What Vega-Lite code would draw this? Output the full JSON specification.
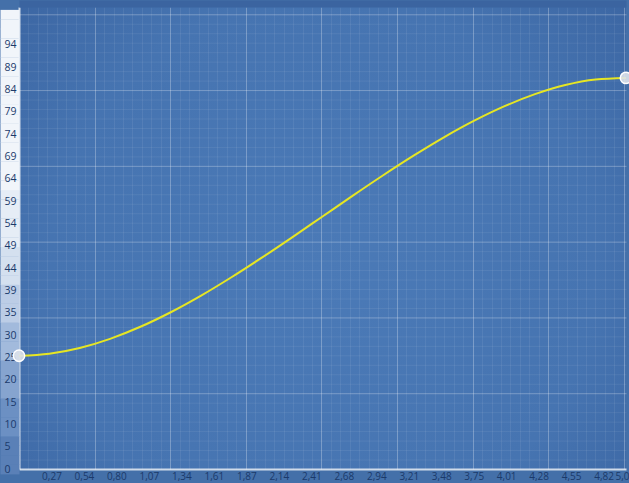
{
  "$schema": "https://vega.github.io/schema/vega-lite/v6.json",
  "width": 607,
  "height": 462,
  "autosize": "none",
  "padding": {"left": 19, "top": 7, "right": 3, "bottom": 14},
  "background": "#4470a9",
  "config": {
    "view": {
      "stroke": null,
      "fill": {"gradient": "radial", "x1": 0.5, "y1": 0.55, "r1": 0, "x2": 0.5, "y2": 0.55, "r2": 0.75,
        "stops": [{"offset": 0, "color": "#4b7ab7"}, {"offset": 0.6, "color": "#4674b1"}, {"offset": 1, "color": "#38619e"}]}
    },
    "axis": {"labelFont": "Open Sans", "labelFontSize": 10, "labelColor": "#1b3a6b", "labelOverlap": false, "labelBound": false}
  },
  "datasets": {
    "curve": [
      {"x": 0, "y": 25}, {"x": 0.25, "y": 25.45}, {"x": 0.5, "y": 26.72}, {"x": 0.75, "y": 28.74},
      {"x": 1.0, "y": 31.4}, {"x": 1.25, "y": 34.61}, {"x": 1.5, "y": 38.28}, {"x": 1.75, "y": 42.33},
      {"x": 2.0, "y": 46.65}, {"x": 2.25, "y": 51.15}, {"x": 2.5, "y": 55.75}, {"x": 2.75, "y": 60.35},
      {"x": 3.0, "y": 64.85}, {"x": 3.25, "y": 69.17}, {"x": 3.5, "y": 73.22}, {"x": 3.75, "y": 76.89},
      {"x": 4.0, "y": 80.1}, {"x": 4.25, "y": 82.76}, {"x": 4.5, "y": 84.78}, {"x": 4.75, "y": 86.0},
      {"x": 5.0, "y": 86.35}
    ],
    "ends": [{"x": 0, "y": 25}, {"x": 5.0, "y": 86.35}]
  },
  "layer": [
    {
      "data": {"name": "curve"},
      "mark": {"type": "line", "color": "#e6e623", "strokeWidth": 2, "interpolate": "monotone", "clip": false},
      "encoding": {
        "x": {
          "field": "x", "type": "quantitative",
          "scale": {"domain": [0, 5], "nice": false, "zero": false},
          "axis": {
            "orient": "bottom", "title": null, "grid": false, "domain": false, "ticks": false, "tickSize": 0,
            "labelPadding": 2, "labelFlush": true, "labelFlushOffset": 3, "labelBaseline": "top",
            "values": [0.26755, 0.5351, 0.80265, 1.0702, 1.33775, 1.6053, 1.87285, 2.1404, 2.40795, 2.6755, 2.94305, 3.2106, 3.47815, 3.7457, 4.01325, 4.2808, 4.54835, 4.8159, 5.0],
            "labelExpr": "datum.value >= 4.99 ? '5,0' : replace(format(datum.value, '.2f'), '.', ',')"
          }
        },
        "y": {
          "field": "y", "type": "quantitative",
          "scale": {"domain": [0, 102], "nice": false, "zero": true},
          "axis": {
            "orient": "left", "title": null, "labels": false, "domain": false,
            "ticks": true, "tickSize": 19, "tickWidth": 9.8, "tickRound": false,
            "tickColor": {"condition": [
              {"test": "datum.value < 8", "value": "#5a80b7"},
              {"test": "datum.value < 16", "value": "#6c90c3"},
              {"test": "datum.value < 24", "value": "#86a4cf"},
              {"test": "datum.value < 32", "value": "#a2badc"},
              {"test": "datum.value < 40", "value": "#bccde6"},
              {"test": "datum.value < 50", "value": "#d4e0ef"},
              {"test": "datum.value < 62", "value": "#e6edf6"}
            ], "value": "#f1f5fa"},
            "grid": true,
            "gridColor": "#ffffff",
            "gridOpacity": {"condition": [{"test": "datum.value == 0", "value": 0.75}, {"test": "abs(datum.value/16.732 - round(datum.value/16.732)) < 0.02", "value": 0.28}], "value": 0.07},
            "gridWidth": {"condition": {"test": "datum.value == 0", "value": 2}, "value": 1},
            "values": [0, 2.0915, 4.183, 6.2745, 8.366, 10.4575, 12.549, 14.6405, 16.732, 18.8235, 20.915, 23.0065, 25.098, 27.1895, 29.281, 31.3725, 33.464, 35.5555, 37.647, 39.7385, 41.83, 43.9215, 46.013, 48.1045, 50.196, 52.2875, 54.379, 56.4705, 58.562, 60.6535, 62.745, 64.8365, 66.928, 69.0195, 71.111, 73.2025, 75.294, 77.3855, 79.477, 81.5685, 83.66, 85.7515, 87.843, 89.9345, 92.026, 94.1175, 96.209, 98.3005, 100.392]
          }
        }
      }
    },
    {
      "data": {"name": "ends"},
      "mark": {"type": "point", "filled": true, "fill": "#dde2ea", "fillOpacity": 0.9, "stroke": "#ffffff", "strokeWidth": 1.5, "size": 130, "clip": false},
      "encoding": {
        "x": {
          "field": "x", "type": "quantitative",
          "scale": {"domain": [0, 5], "nice": false, "zero": false},
          "axis": {
            "orient": "top", "title": null, "labels": false, "ticks": false,
            "domain": true, "domainColor": "#3b64a0", "domainWidth": 7, "offset": 3.5,
            "grid": true,
            "gridColor": "#ffffff",
            "gridOpacity": {"condition": [{"test": "datum.value == 0", "value": 0.75}, {"test": "abs(datum.value/0.622736 - round(datum.value/0.622736)) < 0.02", "value": 0.28}], "value": 0.07},
            "gridWidth": {"condition": {"test": "datum.value == 0", "value": 2}, "value": 1},
            "values": [0, 0.07784, 0.15568, 0.23353, 0.31137, 0.38921, 0.46705, 0.54489, 0.62274, 0.70058, 0.77842, 0.85626, 0.9341, 1.01195, 1.08979, 1.16763, 1.24547, 1.32331, 1.40116, 1.479, 1.55684, 1.63468, 1.71252, 1.79037, 1.86821, 1.94605, 2.02389, 2.10173, 2.17958, 2.25742, 2.33526, 2.4131, 2.49094, 2.56879, 2.64663, 2.72447, 2.80231, 2.88015, 2.958, 3.03584, 3.11368, 3.19152, 3.26936, 3.34721, 3.42505, 3.50289, 3.58073, 3.65857, 3.73642, 3.81426, 3.8921, 3.96994, 4.04778, 4.12563, 4.20347, 4.28131, 4.35915, 4.43699, 4.51484, 4.59268, 4.67052, 4.74836, 4.8262, 4.90405, 4.98189]
          }
        },
        "y": {
          "field": "y", "type": "quantitative",
          "scale": {"domain": [0, 102], "nice": false, "zero": true},
          "axis": {
            "orient": "left", "title": null, "grid": false, "domain": false, "ticks": false, "tickSize": 0,
            "labelAlign": "left", "labelPadding": 15, "labelFlush": false, "labelFontSize": 10.5,
            "values": [0, 4.93, 9.86, 14.79, 19.72, 24.65, 29.58, 34.51, 39.44, 44.37, 49.3, 54.23, 59.16, 64.09, 69.02, 73.95, 78.88, 83.81, 88.74, 93.67],
            "format": ".0f"
          }
        }
      }
    }
  ],
  "resolve": {"axis": {"x": "independent", "y": "independent"}}
}
